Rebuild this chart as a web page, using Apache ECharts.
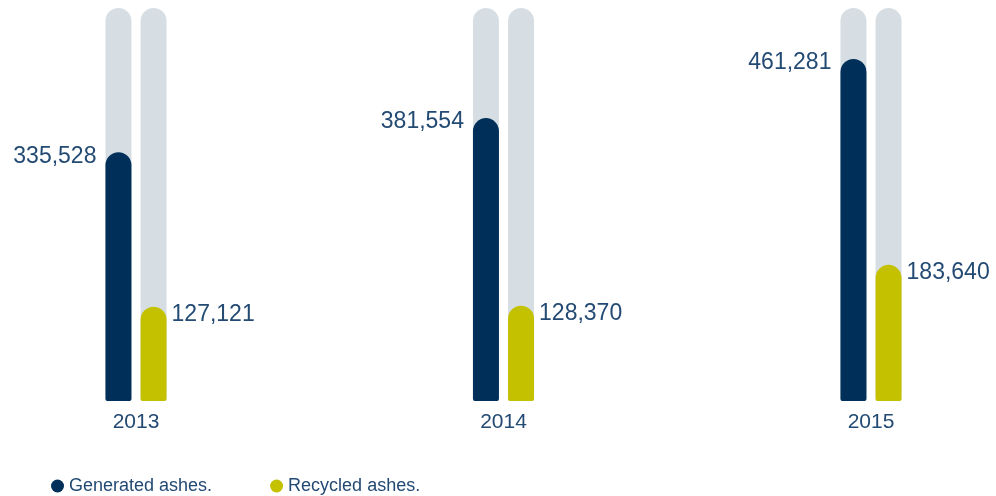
<!DOCTYPE html>
<html><head><meta charset="utf-8">
<script src="https://cdn.jsdelivr.net/npm/echarts@6/dist/echarts.min.js"></script>
<style>html,body{margin:0;padding:0;background:#fff}#c{width:996px;height:496px}</style>
</head><body><div id="c"></div>
<script>
var years = ['2013', '2014', '2015'];
var generated = [335528, 381554, 461281];
var recycled = [127121, 128370, 183640];
var seriesNames = ['Generated ashes.', 'Recycled ashes.'];

var navy = '#00305a', green = '#c3c100', track = '#d6dee4', txt = '#234a73';
var font = 'Liberation Sans';
function fmt(v){ return v.toLocaleString('en-US'); }

var chart = echarts.init(document.getElementById('c'));
chart.setOption({
  animation: false,
  textStyle: { fontFamily: font },
  grid: { left: 136, right: 125, top: 8, bottom: 95 },
  legend: {
    left: 46, top: 472, itemWidth: 13, itemHeight: 13, itemGap: 58, icon: 'circle',
    textStyle: { color: txt, fontSize: 18, fontFamily: font },
    data: seriesNames
  },
  xAxis: {
    type: 'category', data: years, boundaryGap: false,
    axisLine: { show: false }, axisTick: { show: false },
    axisLabel: { color: txt, fontSize: 21, margin: 11, fontFamily: font }
  },
  yAxis: { type: 'value', min: 0, max: 530000, show: false, splitLine: { show: false } },
  series: [
    {
      name: seriesNames[0], type: 'bar', data: generated, barWidth: 26, barGap: '35%',
      itemStyle: { color: navy, borderRadius: [13, 13, 2, 2] },
      showBackground: true,
      backgroundStyle: { color: track, borderRadius: [13, 13, 2, 2] },
      label: {
        show: true, position: [-9, 4], align: 'right', verticalAlign: 'middle',
        color: txt, fontSize: 23, fontFamily: font,
        formatter: function(p){ return fmt(p.value); }
      }
    },
    {
      name: seriesNames[1], type: 'bar', data: recycled, barWidth: 26,
      itemStyle: { color: green, borderRadius: [13, 13, 2, 2] },
      showBackground: true,
      backgroundStyle: { color: track, borderRadius: [13, 13, 2, 2] },
      label: {
        show: true, position: [31, 8], align: 'left', verticalAlign: 'middle',
        color: txt, fontSize: 23, fontFamily: font,
        formatter: function(p){ return fmt(p.value); }
      }
    }
  ]
});
</script></body></html>
